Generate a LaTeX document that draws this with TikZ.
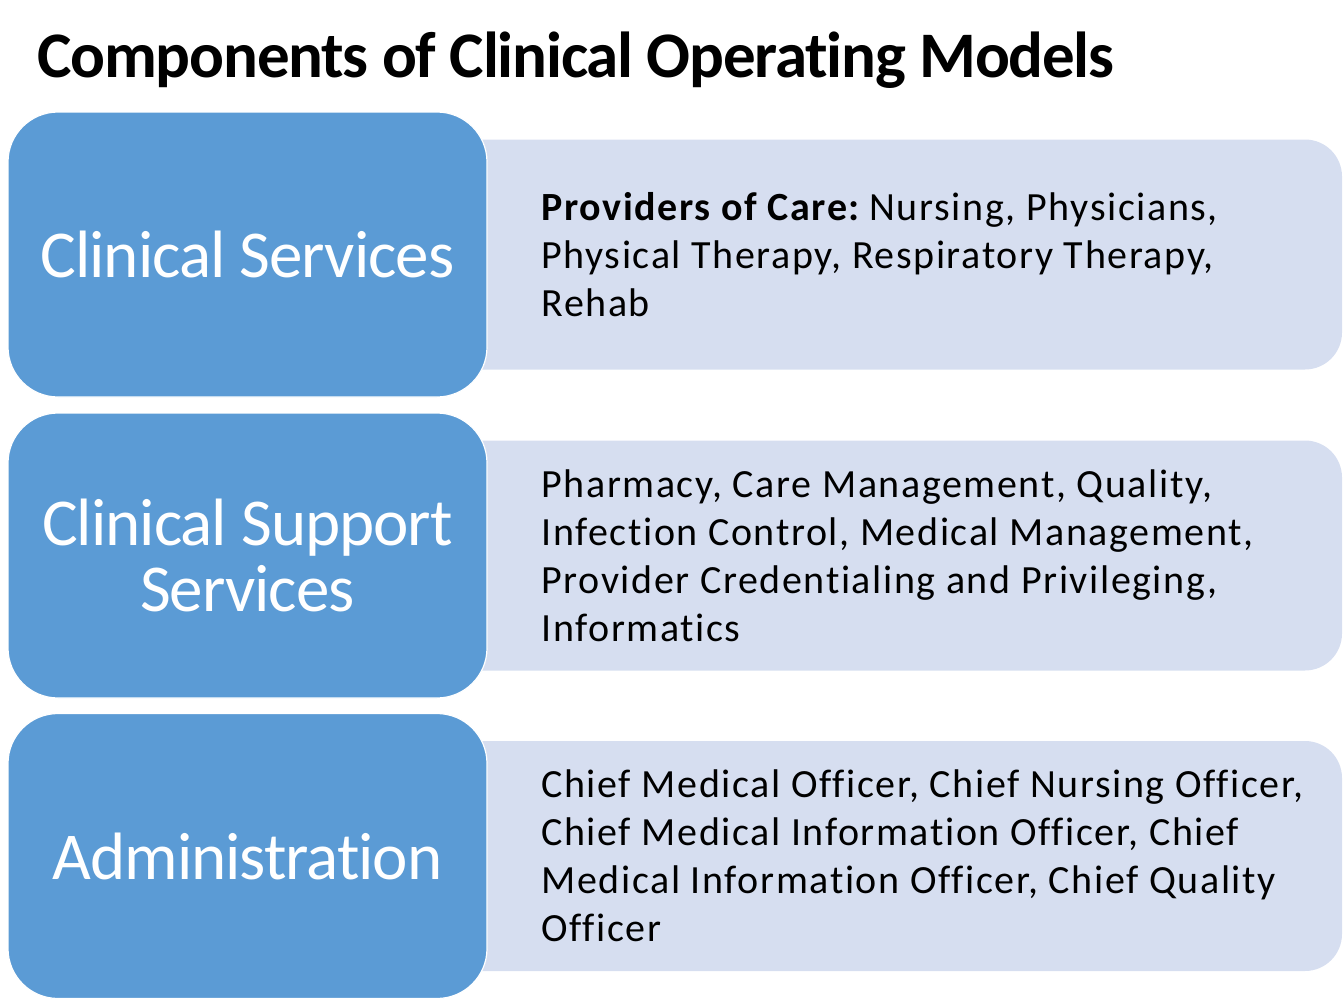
\documentclass[tikz,border=0pt]{standalone}
\usepackage{fontspec}
\setmainfont{Carlito}[Ligatures=NoCommon]
\newfontfamily\titlefont{Carlito}[Ligatures=NoCommon, LetterSpace=-1.9]
\newfontfamily\headfont{Carlito}[Ligatures=NoCommon, LetterSpace=-1.5]
\newfontfamily\bodyfont{Carlito}[Ligatures=NoCommon, LetterSpace=4]
\usetikzlibrary{positioning}

\definecolor{headblue}{HTML}{5B9BD5}
\definecolor{detailblue}{HTML}{D6DEF0}

\begin{document}
\begin{tikzpicture}[x=0.5pt,y=-0.5pt]
          \tikzstyle{heading} = [fill=headblue, draw=white, line width=0.6pt, rounded corners=25pt, minimum width=239.5pt, minimum height=142.5pt, text=white, align=center, font=\headfont\fontsize{33.5}{35}\selectfont]
          \tikzstyle{detail} = [fill=detailblue, rounded corners=18.5pt, minimum width=451pt, minimum height=115pt]
          \tikzstyle{body} = [anchor=west, align=left, inner sep=0pt, font=\bodyfont\fontsize{20}{24}\selectfont]

          \useasboundingbox (0,0) rectangle (1344,1001);

          % Title
          \node[anchor=base west, inner sep=0pt, font=\titlefont\fontsize{32.5}{36}\selectfont\bfseries] (title) at (37,77) {Components of Clinical Operating Models};

          % Rows
          \foreach \i / \y / \head / \items in {%
            1/254.5/{Clinical Services}/{\textbf{Providers of Care:}\hspace{4pt}Nursing, Physicians,\\Physical Therapy, Respiratory Therapy,\\Rehab},
            2/555.5/{Clinical Support\\[-2pt]Services}/{Pharmacy, Care Management, Quality,\\Infection Control, Medical Management,\\Provider Credentialing and Privileging,\\Informatics},
            3/856/{Administration}/{Chief Medical Officer, Chief Nursing Officer,\\Chief Medical Information Officer, Chief\\Medical Information Officer, Chief Quality\\Officer}} {%
            \node[detail] (detail\i) at (891, \y) {};
            \node[heading] (head\i) at (247.5, \y) {\head};
            \node[body] (text\i) at (541, \y) {\items};
          }

        \end{tikzpicture}
\end{document}
